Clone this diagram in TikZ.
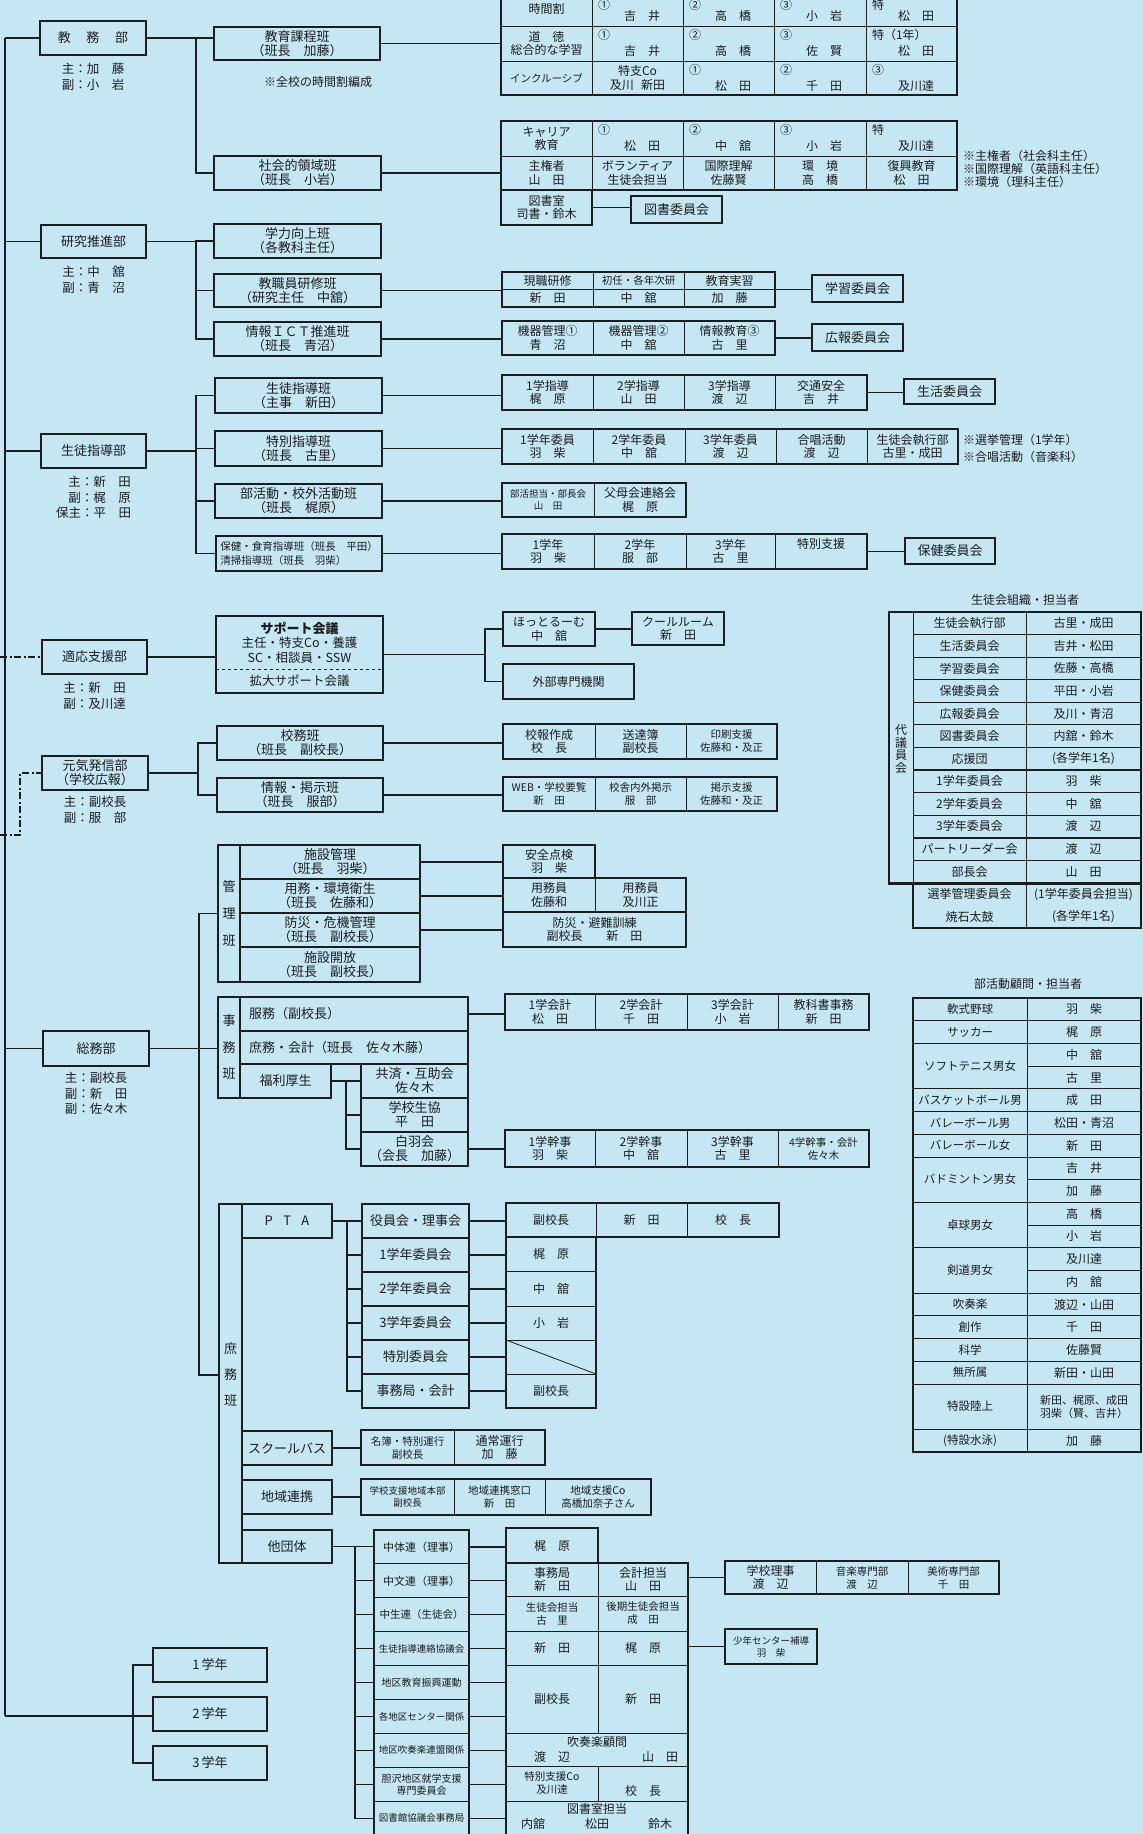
\documentclass[tikz,border=0pt]{standalone}
\usepackage{fontspec}
\setmainfont{Noto Sans CJK JP}
\usetikzlibrary{positioning}

\definecolor{paper}{RGB}{197,231,244}
\definecolor{ink}{RGB}{28,28,28}

\begin{document}
\begin{tikzpicture}[
    x=1pt, y=-1pt,
    every node/.style={text=ink, inner sep=1pt, outer sep=0pt, font=\fontsize{12.5}{14}\selectfont},
    cellat/.style args={#1/#2/#3/#4}{minimum width={(#3)-(#1)}, minimum height={(#4)-(#2)}, at={({((#1)+(#3))/2},{((#2)+(#4))/2})}},
    box/.style={draw=ink, line width=1.1pt, align=center, font=\fontsize{13}{14}\selectfont},
    dept/.style={box, minimum width=106pt, minimum height=34pt},
    staff/.style={font=\fontsize{12.5}{15.5}\selectfont},
    tframe/.style={draw=ink, line width=2.6pt},
    tcell/.style={align=center, font=\fontsize{12}{13.5}\selectfont},
    narrow/.style={align=center, font=\fontsize{10.5}{13}\selectfont},
    tight/.style={align=center, font=\fontsize{9.5}{12}\selectfont},
    note/.style={anchor=north west, align=left, font=\fontsize{12}{13}\selectfont},
    tline/.style={ink, line width=0.8pt},
    link/.style={ink, line width=1.1pt},
    dotlink/.style={ink, line width=2pt, dash pattern=on 7pt off 2.5pt on 2pt off 2.5pt},
]

\path[use as bounding box, fill=paper] (0,0) rectangle (1143,1834);
\clip (0,0) rectangle (1143,1834);

% Spine
\coordinate (edgeL) at (0,0);
\coordinate (spTop) at (5,38);
\coordinate (spBot) at (5,1716);
\draw[link] (spTop) -- (spBot);

% Departments
\node[dept, cellat=40/21/146/55] (kyomu) {教\hspace{1.2em}務\hspace{1.2em}部};
\node[dept, cellat=41/225/146/258] (kenkyu) {研究推進部};
\node[dept, cellat=41/434/146/468] (seito) {生徒指導部};
\node[dept, cellat=42/640/147/674] (tekio) {適応支援部};
\node[dept, cellat=42/756/148/790] (genki) {元気発信部\\（学校広報）};
\node[dept, cellat=43/1031/149/1066] (somu) {総務部};
\node[dept, minimum width=114pt, cellat=153/1648/267/1682] (g1) {1\,学年};
\node[dept, minimum width=114pt, below=15pt of g1] (g2) {2\,学年};
\node[dept, minimum width=114pt, below=15pt of g2] (g3) {3\,学年};

% Staff
\node[staff, below=7pt of kyomu] (kyomuStaff) {\begin{tabular}{@{}r@{：}l@{}}主&加　藤\\副&小　岩\end{tabular}};
\node[staff, below=7pt of kenkyu] (kenkyuStaff) {\begin{tabular}{@{}r@{：}l@{}}主&中　舘\\副&青　沼\end{tabular}};
\node[staff, below=7pt of seito] (seitoStaff) {\begin{tabular}{@{}r@{：}l@{}}主&新　田\\副&梶　原\\保主&平　田\end{tabular}};
\node[staff, below=7pt of tekio] (tekioStaff) {\begin{tabular}{@{}r@{：}l@{}}主&新　田\\副&及川達\end{tabular}};
\node[staff, below=5pt of genki] (genkiStaff) {\begin{tabular}{@{}r@{：}l@{}}主&副校長\\副&服　部\end{tabular}};
\node[staff, below=5pt of somu] (somuStaff) {\begin{tabular}{@{}r@{：}l@{}}主&副校長\\副&新　田\\副&佐々木\end{tabular}};

\draw[link] (spTop) -- (kyomu.west);
\draw[link] (kenkyu.west -| spTop) -- (kenkyu.west);
\draw[link] (seito.west -| spTop) -- (seito.west);
\draw[dotlink] (tekio.west -| edgeL) -- (tekio.west);
\coordinate (gkTurn) at (20,835);
\draw[dotlink] (gkTurn -| edgeL) -- (gkTurn) |- (genki.west);
\draw[link] (somu.west -| spTop) -- (somu.west);
\path (spBot) ++(128,0) coordinate (gBr);
\draw[link] (spBot) -- (gBr) -- (gBr -| g2.west);
\draw[link] (g1.west) -| (gBr) |- (g3.west);

% Teams
\node[box, cellat=214/27/380/60] (kyoiku) {教育課程班\\（班長　加藤）};
\node[font=\fontsize{12}{13}\selectfont] (kyoikuNote) at (318,82) {※全校の時間割編成};
\node[box, cellat=214/156/381/190] (shakai) {社会的領域班\\（班長　小岩）};
\node[box, cellat=214/224/381/258] (gakuryoku) {学力向上班\\（各教科主任）};
\node[box, cellat=214/274/381/307] (kenshu) {教職員研修班\\（研究主任　中舘）};
\node[box, cellat=214/322/381/356] (ict) {情報ＩＣＴ推進班\\（班長　青沼）};
\node[box, cellat=215/378/382/413] (shido) {生徒指導班\\（主事　新田）};
\node[box, cellat=215/431/382/466] (tokubetsu) {特別指導班\\（班長　古里）};
\node[box, cellat=215/484/382/518] (bukatsu) {部活動・校外活動班\\（班長　梶原）};
\node[box, cellat=216/536/382/571, align=left, font=\fontsize{10.5}{13.5}\selectfont] (hoken) {保健・食育指導班（班長　平田）\\清掃指導班（班長　羽柴）};
\node[box, cellat=217/726/383/760] (komu) {校務班\\（班長　副校長）};
\node[box, cellat=217/778/383/812] (johokeiji) {情報・掲示班\\（班長　服部）};

\path (kyomu.east) ++(50,0) coordinate (kyomuBr);
\draw[link] (kyomu.east) -- (kyomuBr) -- (kyomuBr -| kyoiku.west);
\draw[link] (kyomuBr) |- (shakai.west);
\path (kenkyu.east) ++(50,0) coordinate (kenkyuBr);
\draw[link] (kenkyu.east) -- (kenkyuBr);
\draw[link] (gakuryoku.west) -| (kenkyuBr) |- (ict.west);
\draw[link] (kenshu.west) -- (kenshu.west -| kenkyuBr);
\path (seito.east) ++(50,0) coordinate (seitoBr);
\draw[link] (seito.east) -- (seitoBr);
\draw[link] (shido.west) -| (seitoBr) |- (hoken.west);
\draw[link] (tokubetsu.west) -- (tokubetsu.west -| seitoBr);
\draw[link] (bukatsu.west) -- (bukatsu.west -| seitoBr);
\path (genki.east) ++(50,0) coordinate (genkiBr);
\draw[link] (genki.east) -- (genkiBr);
\draw[link] (komu.west) -| (genkiBr) |- (johokeiji.west);

% Curriculum tables
\foreach \x in {592,683,774,866} \draw[tline] (\x,-9) -- (\x,95);
\foreach \y in {26,61} \draw[tline] (501,\y) -- (957,\y);
\node[tframe, cellat=501/-9/957/95] (jikanTab) {};
\node[tcell] (jkA) at (546.5,9) {時間割};
\node[tcell] (jkB) at (546.5,43.5) {道\hspace{1em}徳\\総合的な学習};
\node[narrow] (jkC) at (546.5,78) {インクルーシブ};
\node[tcell] (jkD) at (637.5,78) {特支Co\\及川\hspace{0.6em}新田};
\foreach \x/\y/\mk [count=\i] in {592/①, 683/②, 774/③, 866/特}
  \node[tcell, anchor=west] (mkTop\i) at (\x+5,5) {\y};
\foreach \x/\y/\mk/\nm [count=\i] in {592/-9/①/吉　井, 683/-9/②/高　橋, 774/-9/③/小　岩, 866/-9/特/松　田,
    592/26/①/吉　井, 683/26/②/高　橋, 774/26/③/佐　賢, 866/26/特（1年）/松　田,
    683/61/①/松　田, 774/61/②/千　田, 866/61/③/及川達,
    592/121/①/松　田, 683/121/②/中　舘, 774/121/③/小　岩, 866/121/特/及川達} {
  \ifnum\i>4 \node[tcell, anchor=west] (mk\i) at (\x+5,\y+9) {\mk};\fi
  \node[tcell] (nm\i) at (\x+50,\y+25) {\nm};
}
\foreach \x in {592,683,774,866} \draw[tline] (\x,121) -- (\x,190);
\draw[tline] (501,156) -- (957,156);
\node[tframe, cellat=501/121/957/190] (shakaiTab) {};
\node[tframe, tcell, cellat=501/190/592/225] (toshoshitsu) {図書室\\司書・鈴木};
\node[tcell] (skA) at (546.5,138.5) {キャリア\\教育};
\foreach \x/\t [count=\i] in {546.5/主権者\\山　田, 637.5/ボランティア\\生徒会担当, 728.5/国際理解\\佐藤賢, 820/環　境\\高　橋, 911.5/復興教育\\松　田}
  \node[tcell] (skB\i) at (\x,173) {\t};
\node[box, cellat=631/196/722/223] (toshoIin) {図書委員会};
\node[note] (shakaiNote) at (962,149) {※主権者（社会科主任）\\※国際理解（英語科主任）\\※環境（理科主任）};

% Research tables
\foreach \x in {593,684} \draw[tline] (\x,272) -- (\x,307);
\draw[tline] (502,289) -- (775,289);
\node[tframe, cellat=502/272/775/307] (kenshuTab) {};
\node[tcell] (ksA1) at (547.5,280.5) {現職研修};
\node[narrow] (ksA2) at (638.5,280.5) {初任・各年次研};
\node[tcell] (ksA3) at (729.5,280.5) {教育実習};
\foreach \x/\t [count=\i] in {547.5/新　田, 638.5/中　舘, 729.5/加　藤} \node[tcell] (ksB\i) at (\x,298) {\t};
\node[box, cellat=812/275/903/302] (gakushu) {学習委員会};
\foreach \x in {593,684} \draw[tline] (\x,321) -- (\x,355);
\node[tframe, cellat=502/321/775/355] (ictTab) {};
\foreach \x/\t [count=\i] in {547.5/機器管理①\\青　沼, 638.5/機器管理②\\中　舘, 729.5/情報教育③\\古　里} \node[tcell] (ictC\i) at (\x,338) {\t};
\node[box, cellat=812/324/903/351] (kouhou) {広報委員会};

% Guidance tables
\foreach \x in {593,684,775} \draw[tline] (\x,375) -- (\x,410);
\node[tframe, cellat=502/375/867/410] (shidoTab) {};
\foreach \x/\t [count=\i] in {547.5/1学指導\\梶　原, 638.5/2学指導\\山　田, 729.5/3学指導\\渡　辺, 821/交通安全\\吉　井} \node[tcell] (sdC\i) at (\x,392.5) {\t};
\node[box, cellat=904/379/995/404] (seikatsu) {生活委員会};
\foreach \x in {593,685,776,867} \draw[tline] (\x,429) -- (\x,464);
\node[tframe, cellat=502/429/958/464] (tokuTab) {};
\foreach \x/\t [count=\i] in {547.5/1学年委員\\羽　柴, 639/2学年委員\\中　舘, 730.5/3学年委員\\渡　辺, 821.5/合唱活動\\渡　辺, 912.5/生徒会執行部\\古里・成田} \node[tcell] (tkC\i) at (\x,446.5) {\t};
\node[note, font=\fontsize{12}{17}\selectfont] (tokuNote) at (962,433) {※選挙管理（1学年）\\※合唱活動（音楽科）};
\draw[tline] (594,483) -- (594,517);
\node[tframe, cellat=502/483/686/517] (bukatsuTab) {};
\node[tight] (bkC1) at (548,500) {部活担当・部長会\\山　田};
\node[tcell] (bkC2) at (640,500) {父母会連絡会\\梶　原};
\foreach \x in {594,686,775} \draw[tline] (\x,534) -- (\x,569);
\node[tframe, cellat=502/534/867/569] (hokenTab) {};
\foreach \x/\t [count=\i] in {548/1学年\\羽　柴, 640/2学年\\服　部, 730.5/3学年\\古　里} \node[tcell] (hkC\i) at (\x,551.5) {\t};
\node[tcell] (hkC4) at (821,544) {特別支援};
\node[box, cellat=905/538/995/564] (hokenIin) {保健委員会};

\draw[link] (kyoiku.east) -- (kyoiku.east -| jikanTab.west);
\draw[link] (shakai.east) -- (shakai.east -| shakaiTab.west);
\draw[link] (toshoshitsu.east) -- (toshoshitsu.east -| toshoIin.west);
\draw[link] (kenshu.east) -- (kenshu.east -| kenshuTab.west);
\draw[link] (kenshuTab.east) -- (kenshuTab.east -| gakushu.west);
\draw[link] (ict.east) -- (ict.east -| ictTab.west);
\draw[link] (ictTab.east) -- (ictTab.east -| kouhou.west);
\draw[link] (shido.east) -- (shido.east -| shidoTab.west);
\draw[link] (shidoTab.east) -- (shidoTab.east -| seikatsu.west);
\draw[link] (tokubetsu.east) -- (tokubetsu.east -| tokuTab.west);
\draw[link] (bukatsu.east) -- (bukatsu.east -| bukatsuTab.west);
\draw[link] (hoken.east) -- (hoken.east -| hokenTab.west);
\draw[link] (hokenTab.east) -- (hokenTab.east -| hokenIin.west);

% Support
\node[tframe, cellat=216/616/383/693] (support) {};
\node[font=\fontsize{13}{14}\bfseries] (spA) at (299.5,628) {サポート会議};
\node (spB) at (299.5,643) {主任・特支Co・養護};
\node (spC) at (299.5,658) {SC・相談員・SSW};
\draw[tline, dashed] (216,669) -- (383,669);
\node (spD) at (299.5,680.5) {拡大サポート会議};
\node[tframe, tcell, cellat=503/612/595/646] (hottoroom) {ほっとるーむ\\中　舘};
\node[tframe, tcell, cellat=632/612/724/645] (coolroom) {クールルーム\\新　田};
\node[tframe, tcell, cellat=503/664/634/699] (gaibu) {外部専門機関};
\draw[link] (tekio.east) -- (tekio.east -| support.west);
\path (support.east) ++(102,0) coordinate (supportBr);
\draw[link] (support.east) -- (supportBr);
\draw[link] (hottoroom.west) -| (supportBr) |- (gaibu.west);
\draw[link] (hottoroom.east) -- (hottoroom.east -| coolroom.west);

% Public relations
\foreach \x in {595,686} \draw[tline] (\x,724) -- (\x,759);
\node[tframe, cellat=503/724/777/759] (kohoTab) {};
\node[tcell] (khC1) at (549,741.5) {校報作成\\校　長};
\node[tcell] (khC2) at (640.5,741.5) {送達簿\\副校長};
\node[narrow] (khC3) at (731.5,741.5) {印刷支援\\佐藤和・及正};
\foreach \x in {595,686} \draw[tline] (\x,777) -- (\x,811);
\node[tframe, cellat=503/777/777/811] (keijiTab) {};
\node[narrow] (kjC1) at (549,794) {WEB・学校要覧\\新　田};
\node[narrow] (kjC2) at (640.5,794) {校舎内外掲示\\服　部};
\node[narrow] (kjC3) at (731.5,794) {掲示支援\\佐藤和・及正};
\draw[link] (komu.east) -- (komu.east -| kohoTab.west);
\draw[link] (johokeiji.east) -- (johokeiji.east -| keijiTab.west);

% General affairs: kanri
\node[box, cellat=218/845/240/982, font=\fontsize{13}{27}\selectfont] (kanri) {管\\理\\班};
\node[box, cellat=240/845/420/879] (kanri1) {施設管理\\（班長　羽柴）};
\node[box, cellat=240/879/420/913] (kanri2) {用務・環境衛生\\（班長　佐藤和）};
\node[box, cellat=240/913/420/947] (kanri3) {防災・危機管理\\（班長　副校長）};
\node[box, cellat=240/947/420/982] (kanri4) {施設開放\\（班長　副校長）};
\node[tframe, tcell, cellat=503/845/595/878] (anzen) {安全点検\\羽　柴};
\draw[tline] (595,878) -- (595,912);
\node[tframe, cellat=503/878/686/912] (yomuin) {};
\node[tcell] (yomuA) at (549,895) {用務員\\佐藤和};
\node[tcell] (yomuB) at (640.5,895) {用務員\\及川正};
\node[tframe, tcell, cellat=503/912/686/947] (bousai) {防災・避難訓練\\副校長\hspace{2em}新　田};
\draw[link] (kanri1.east) -- (kanri1.east -| anzen.west);
\draw[link] (kanri2.east) -- (kanri2.east -| yomuin.west);
\draw[link] (kanri3.east) -- (kanri3.east -| bousai.west);

% General affairs: jimu
\node[box, cellat=218/997/240/1098, font=\fontsize{13}{26.5}\selectfont] (jimu) {事\\務\\班};
\node[box, cellat=240/997/468/1031] (fukumu) {};
\node[anchor=west, font=\fontsize{13}{14}\selectfont] (fukumuTxt) at (248,1014) {服務（副校長）};
\node[box, cellat=240/1031/468/1064] (shokai) {};
\node[anchor=west, font=\fontsize{13}{14}\selectfont] (shokaiTxt) at (248,1048) {庶務・会計（班長　佐々木藤）};
\node[box, cellat=240/1064/331/1098] (fukuri) {福利厚生};
\node[box, cellat=361/1064/468/1098] (kyosai) {共済・互助会\\佐々木};
\node[box, cellat=361/1098/468/1132] (seikyo) {学校生協\\平　田};
\node[box, cellat=361/1132/468/1166] (hakuu) {白羽会\\（会長　加藤）};
\path (fukuri.east) ++(15,0) coordinate (fukuriBr);
\draw[link] (fukuri.east) -- (fukuriBr) -- (fukuriBr -| kyosai.west);
\draw[link] (fukuriBr) |- (hakuu.west);
\draw[link] (seikyo.west) -- (seikyo.west -| fukuriBr);
\foreach \x in {595,687,778} \draw[tline] (\x,994) -- (\x,1030);
\node[tframe, cellat=505/994/869/1030] (kaikeiTab) {};
\foreach \x/\t [count=\i] in {550/1学会計\\松　田, 641/2学会計\\千　田, 732.5/3学会計\\小　岩, 823.5/教科書事務\\新　田} \node[tcell] (kkC\i) at (\x,1012) {\t};
\foreach \x in {595,687,778} \draw[tline] (\x,1130) -- (\x,1167);
\node[tframe, cellat=505/1130/869/1167] (kanjiTab) {};
\foreach \x/\t [count=\i] in {550/1学幹事\\羽　柴, 641/2学幹事\\中　舘, 732.5/3学幹事\\古　里} \node[tcell] (kjK\i) at (\x,1148.5) {\t};
\node[narrow] (kjK4) at (823.5,1148.5) {4学幹事・会計\\佐々木};
\draw[link] (fukumu.east) -- (fukumu.east -| kaikeiTab.west);
\draw[link] (hakuu.east) -- (hakuu.east -| kanjiTab.west);

% General affairs: shomu
\node[box, cellat=219/1204/242/1563] (shomu) {};
\node[font=\fontsize{13}{26}\selectfont, align=center] (shomuTxt) at (230.5,1375) {庶\\務\\班};
\node[box, cellat=242/1204/332/1238] (pta) {P\hspace{0.8em}T\hspace{0.8em}A};
\node[box, cellat=242/1431/332/1465] (bus) {スクールバス};
\node[box, cellat=242/1480/332/1514] (chiiki) {地域連携};
\node[box, cellat=242/1530/332/1563] (tadantai) {他団体};
\path (somu.east) ++(50,0) coordinate (somuBr);
\draw[link] (somu.east) -- (somuBr) -- (somuBr -| jimu.west);
\draw[link] (kanri.west) -| (somuBr) |- (shomuTxt.west -| shomu.west);

\foreach \t [count=\i] in {役員会・理事会, 1学年委員会, 2学年委員会, 3学年委員会, 特別委員会, 事務局・会計}
  \node[box, cellat={362/{1204+34*(\i-1)}/469/{1204+34*\i}}] (pta\i) {\t};
\path (pta.east) ++(15,0) coordinate (ptaBr);
\draw[link] (pta.east) -- (ptaBr) -- (ptaBr -| pta1.west);
\draw[link] (ptaBr) |- (pta6.west);
\foreach \i in {2,...,5} \draw[link] (pta\i.west) -- (pta\i.west -| ptaBr);
\draw[tline] (596,1203) -- (596,1237);
\draw[tline] (687,1203) -- (687,1237);
\foreach \y in {1271,1306,1340,1374} \draw[tline] (506,\y) -- (596,\y);
\draw[tline] (506,1340) -- (596,1374);
\node[tframe, cellat=506/1203/779/1237] (ptaTop) {};
\node[tframe, cellat=506/1237/596/1408] (ptaCol) {};
\node[tcell] (ptA1) at (551,1220) {副校長};
\node[tcell] (ptA2) at (641.5,1220) {新　田};
\node[tcell] (ptA3) at (733,1220) {校　長};
\foreach \y/\t [count=\i] in {1254/梶　原, 1288.5/中　舘, 1323/小　岩, 1391/副校長} \node[tcell] (ptB\i) at (551,\y) {\t};
\foreach \i in {1,...,6} \draw[link] (pta\i.east) -- (pta\i.east -| ptaCol.west);

\draw[tline] (454,1430) -- (454,1465);
\node[tframe, cellat=361/1430/545/1465] (busTab) {};
\node[narrow] (buC1) at (407.5,1447.5) {名簿・特別運行\\副校長};
\node[tcell] (buC2) at (499.5,1447.5) {通常運行\\加　藤};
\draw[link] (bus.east) -- (bus.east -| busTab.west);
\foreach \x in {454,545} \draw[tline] (\x,1479) -- (\x,1515);
\node[tframe, cellat=361/1479/651/1515] (chiikiTab) {};
\node[tight] (ckC1) at (407.5,1497) {学校支援地域本部\\副校長};
\node[narrow] (ckC2) at (499.5,1497) {地域連携窓口\\新　田};
\node[narrow] (ckC3) at (598,1497) {地域支援Co\\高橋加奈子さん};
\draw[link] (chiiki.east) -- (chiiki.east -| chiikiTab.west);

\foreach \fs/\t [count=\i] in {11/中体連（理事）, 11/中文連（理事）, 10.5/中生連（生徒会）, 9.5/生徒指導連絡協議会, 10/地区教育振興運動, 9.5/各地区センター関係, 9.5/地区吹奏楽連盟関係, 10/胆沢地区就学支援\\専門委員会, 9.5/図書館協議会事務局}
  \node[box, font=\fontsize{\fs}{12}\selectfont, cellat={374/{1530+33.9*(\i-1)}/469/{1530+33.9*\i}}] (ta\i) {\t};
\path (tadantai.east) ++(23,0) coordinate (taBr);
\draw[link] (tadantai.east) -- (taBr) -- (taBr -| ta1.west);
\draw[link] (taBr) |- (ta9.west);
\foreach \i in {2,...,8} \draw[link] (ta\i.west) -- (ta\i.west -| taBr);
\foreach \y in {1596,1631,1665,1733,1766,1801} \draw[tline] (506,\y) -- (688,\y);
\draw[tline] (598,1563) -- (598,1733);
\draw[tline] (598,1766) -- (598,1801);
\node[tframe, tcell, cellat=506/1528/598/1563] (taKaji) {梶　原};
\node[tframe, cellat=506/1563/688/1850] (taTab) {};
\node[tcell] (tt1) at (552,1579.5) {事務局\\新　田};
\node[tcell] (tt2) at (643,1579.5) {会計担当\\山　田};
\node[narrow] (tt3) at (552,1613.5) {生徒会担当\\古　里};
\node[narrow] (tt4) at (643,1613.5) {後期生徒会担当\\成　田};
\node[tcell] (tt5) at (552,1648) {新　田};
\node[tcell] (tt6) at (643,1648) {梶　原};
\node[tcell] (tt7) at (552,1699) {副校長};
\node[tcell] (tt8) at (643,1699) {新　田};
\node[tcell] (tt9) at (597,1742) {吹奏楽顧問};
\node[tcell] (tt10) at (552,1757) {渡　辺};
\node[tcell] (tt11) at (660,1757) {山　田};
\node[narrow] (tt12) at (552,1783.5) {特別支援Co\\及川達};
\node[tcell] (tt13) at (643,1791) {校　長};
\node[tcell] (tt14) at (597,1809) {図書室担当};
\node[tcell] (tt15) at (533,1824) {内舘};
\node[tcell] (tt16) at (597,1824) {松田};
\node[tcell] (tt17) at (660,1824) {鈴木};
\draw[link] (ta1.east) -- (ta1.east -| taKaji.west);
\foreach \i in {2,...,9} \draw[link] (ta\i.east) -- (ta\i.east -| taTab.west);
\foreach \x in {816,908} \draw[tline] (\x,1561) -- (\x,1594);
\node[tframe, cellat=725/1561/999/1594] (riji) {};
\node[tcell] (rjC1) at (770.5,1577.5) {学校理事\\渡　辺};
\node[narrow] (rjC2) at (862,1577.5) {音楽専門部\\渡　辺};
\node[narrow] (rjC3) at (953.5,1577.5) {美術専門部\\千　田};
\node[tframe, tight, cellat=725/1629/817/1664] (shonen) {少年センター補導\\羽　柴};
\draw[link] (taTab.east |- riji.west) -- (riji.west);
\draw[link] (taTab.east |- shonen.west) -- (shonen.west);

% Student council table
\node[font=\fontsize{12}{13}\selectfont] (scTitle) at (1025,600) {生徒会組織・担当者};
\foreach \k in {1,...,12} \draw[tline] (913,{612+22.57*\k}) -- (1141,{612+22.57*\k});
\foreach \k in {7,10} \draw[ink, line width=2pt] (913,{612+22.57*\k}) -- (1141,{612+22.57*\k});
\draw[tline] (913,612) -- (913,883.4);
\draw[tline] (1026,612) -- (1026,928);
\node[tframe, cellat=889/612/1141/883.4] (daigi) {};
\node[tframe, cellat=913/883.4/1141/928] (senkyo) {};
\node[align=center, font=\fontsize{12}{12.5}\selectfont] (daigiLbl) at (901,749) {代\\議\\員\\会};
\foreach \l/\r [count=\k] in {生徒会執行部/古里・成田, 生活委員会/吉井・松田, 学習委員会/佐藤・高橋, 保健委員会/平田・小岩, 広報委員会/及川・青沼, 図書委員会/内舘・鈴木, 応援団/(各学年1名), 1学年委員会/羽　柴, 2学年委員会/中　舘, 3学年委員会/渡　辺, パートリーダー会/渡　辺, 部長会/山　田, 選挙管理委員会/(1学年委員会担当), 焼石太鼓/(各学年1名)} {
  \node[tcell] (scL\k) at (969.5,{612+22.57*(\k-0.5)}) {\l};
  \node[tcell] (scR\k) at (1083.5,{612+22.57*(\k-0.5)}) {\r};
}

% Club advisors table
\node[font=\fontsize{12}{13}\selectfont] (clubTitle) at (1028,984) {部活動顧問・担当者};
\draw[tline] (1027,998) -- (1027,1452);
\foreach \s/\n/\lab [count=\i] in {0/1/軟式野球, 1/1/サッカー, 2/2/ソフトテニス男女, 4/1/バスケットボール男, 5/1/バレーボール男, 6/1/バレーボール女, 7/2/バドミントン男女, 9/2/卓球男女, 11/2/剣道男女, 13/1/吹奏楽, 14/1/創作, 15/1/科学, 16/1/無所属, 17/2/特設陸上, 19/1/(特設水泳)} {
  \node[font=\fontsize{11.5}{13}\selectfont] (clubL\i) at (970,{998+22.7*(\s+\n/2)}) {\lab};
  \draw[tline] (913,{998+22.7*(\s+\n)}) -- (1141,{998+22.7*(\s+\n)});
}
\foreach \k in {3,8,10,12} \draw[tline] (1027,{998+22.7*\k}) -- (1141,{998+22.7*\k});
\foreach \k/\nm in {0/羽　柴, 1/梶　原, 2/中　舘, 3/古　里, 4/成　田, 5/松田・青沼, 6/新　田, 7/吉　井, 8/加　藤, 9/高　橋, 10/小　岩, 11/及川達, 12/内　舘, 13/渡辺・山田, 14/千　田, 15/佐藤賢, 16/新田・山田, 19/加　藤}
  \node[tcell] (clubR\k) at (1084,{998+22.7*(\k+0.5)}) {\nm};
\node[align=center, font=\fontsize{11}{13}\selectfont] (clubR17) at (1084,{998+22.7*18}) {新田、梶原、成田\\羽柴（賢、吉井）};
\node[tframe, cellat=913/998/1141/1452] (clubTab) {};

\end{tikzpicture}
\end{document}
